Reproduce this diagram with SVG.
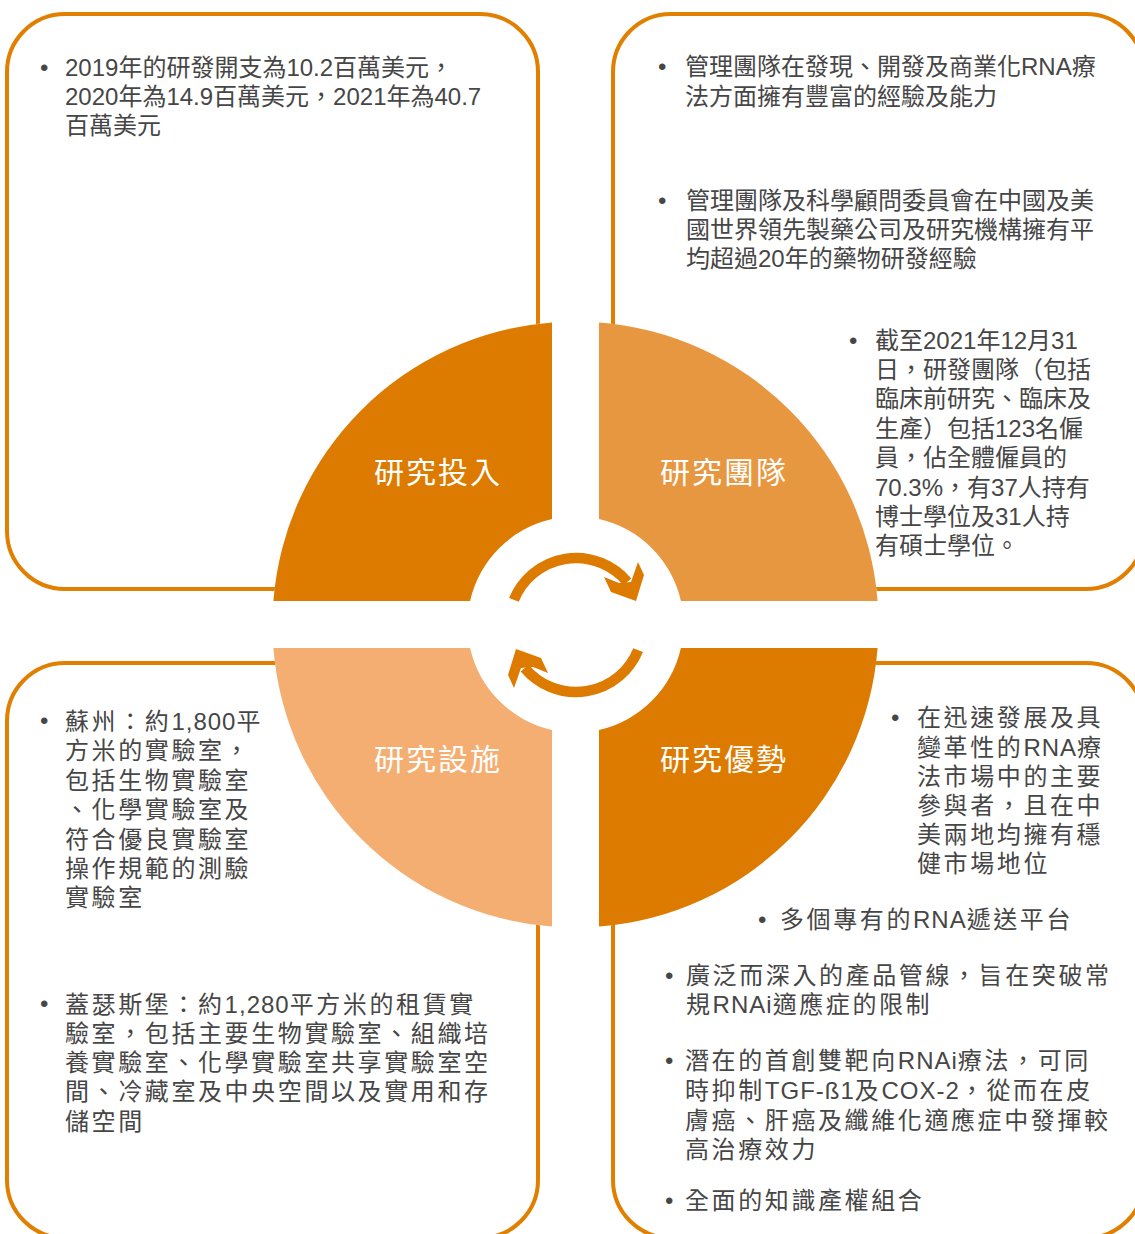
<svg xmlns="http://www.w3.org/2000/svg" width="1135" height="1234" viewBox="0 0 1135 1234">
  <style>
    .box { fill: #ffffff; stroke: #E07F00; stroke-width: 4; }
    .body { font-family: "Liberation Sans", "Noto Sans CJK TC", sans-serif; font-size: 24px; fill: #464646; }
    .spaced { letter-spacing: 2.6px; }
    .lat { letter-spacing: 1px; }
    .label { font-family: "Liberation Sans", "Noto Sans CJK TC", sans-serif; font-size: 30px; fill: #ffffff; letter-spacing: 2px; text-anchor: middle; }
    .dark { fill: #DC7B00; }
    .mid { fill: #E89741; }
    .light { fill: #F4AE72; }
    .cycle { fill: #DC7B00; }
  </style>

  <!-- four rounded panels, partly running off the page edges -->
  <g id="panel-input">
    <rect class="box" x="7" y="14" width="531" height="575" rx="58"/>
    <text class="body">
      <tspan x="40" y="76">•</tspan>
      <tspan x="65" y="76">2019年的研發開支為10.2百萬美元，</tspan>
      <tspan x="65" y="105">2020年為14.9百萬美元，2021年為40.7</tspan>
      <tspan x="65" y="134">百萬美元</tspan>
    </text>
  </g>

  <g id="panel-team">
    <rect class="box" x="613" y="14" width="531" height="575" rx="58"/>
    <text class="body">
      <tspan x="658" y="75">•</tspan>
      <tspan x="685" y="75">管理團隊在發現、開發及商業化RNA療</tspan>
      <tspan x="685" y="105">法方面擁有豐富的經驗及能力</tspan>
      <tspan x="658" y="209">•</tspan>
      <tspan x="686" y="209">管理團隊及科學顧問委員會在中國及美</tspan>
      <tspan x="686" y="238">國世界領先製藥公司及研究機構擁有平</tspan>
      <tspan x="686" y="267">均超過20年的藥物研發經驗</tspan>
      <tspan x="849" y="349">•</tspan>
      <tspan x="875" y="349">截至2021年12月31</tspan>
      <tspan x="875" y="378">日，研發團隊（包括</tspan>
      <tspan x="875" y="407">臨床前研究、臨床及</tspan>
      <tspan x="875" y="437">生產）包括123名僱</tspan>
      <tspan x="875" y="466">員，佔全體僱員的</tspan>
      <tspan x="875" y="496">70.3%，有37人持有</tspan>
      <tspan x="875" y="525">博士學位及31人持</tspan>
      <tspan x="875" y="554">有碩士學位。</tspan>
    </text>
  </g>

  <g id="panel-facilities">
    <rect class="box" x="7" y="663" width="531" height="575" rx="58"/>
    <text class="body">
      <tspan x="40" y="729">•</tspan>
      <tspan x="40" y="1012">•</tspan>
    </text>
    <text class="body spaced">
      <tspan x="65" y="730">蘇州：約<tspan class="lat">1,800</tspan>平</tspan>
      <tspan x="65" y="759">方米的實驗室，</tspan>
      <tspan x="65" y="789">包括生物實驗室</tspan>
      <tspan x="65" y="818">、化學實驗室及</tspan>
      <tspan x="65" y="848">符合優良實驗室</tspan>
      <tspan x="65" y="877">操作規範的測驗</tspan>
      <tspan x="65" y="906">實驗室</tspan>
      <tspan x="65" y="1013">蓋瑟斯堡：約<tspan class="lat">1,280</tspan>平方米的租賃實</tspan>
      <tspan x="65" y="1042">驗室，包括主要生物實驗室、組織培</tspan>
      <tspan x="65" y="1071">養實驗室、化學實驗室共享實驗室空</tspan>
      <tspan x="65" y="1100">間、冷藏室及中央空間以及實用和存</tspan>
      <tspan x="65" y="1130">儲空間</tspan>
    </text>
  </g>

  <g id="panel-strengths">
    <rect class="box" x="613" y="663" width="531" height="575" rx="58"/>
    <text class="body">
      <tspan x="891" y="726">•</tspan>
      <tspan x="758" y="928">•</tspan>
      <tspan x="665" y="984">•</tspan>
      <tspan x="665" y="1069">•</tspan>
      <tspan x="665" y="1209">•</tspan>
    </text>
    <text class="body spaced">
      <tspan x="917" y="726">在迅速發展及具</tspan>
      <tspan x="917" y="756">變革性的<tspan class="lat">RNA</tspan>療</tspan>
      <tspan x="917" y="785">法市場中的主要</tspan>
      <tspan x="917" y="814">參與者，且在中</tspan>
      <tspan x="917" y="843">美兩地均擁有穩</tspan>
      <tspan x="917" y="872">健市場地位</tspan>
      <tspan x="780" y="928">多個專有的<tspan class="lat">RNA</tspan>遞送平台</tspan>
      <tspan x="686" y="984">廣泛而深入的產品管線，旨在突破常</tspan>
      <tspan x="686" y="1013">規<tspan class="lat">RNAi</tspan>適應症的限制</tspan>
      <tspan x="685" y="1069">潛在的首創雙靶向<tspan class="lat">RNAi</tspan>療法，可同</tspan>
      <tspan x="685" y="1099">時抑制<tspan class="lat">TGF-ß1</tspan>及<tspan class="lat">COX-2</tspan>，從而在皮</tspan>
      <tspan x="685" y="1129">膚癌、肝癌及纖維化適應症中發揮較</tspan>
      <tspan x="685" y="1158">高治療效力</tspan>
      <tspan x="685" y="1209">全面的知識產權組合</tspan>
    </text>
  </g>

  <!-- white hub clears the panel corners behind the ring -->
  <circle cx="575.5" cy="624.5" r="303" fill="#ffffff"/>

  <!-- central ring split into four quadrants -->
  <g id="quadrant-input">
    <path class="dark" d="M 273.4 601 A 303 303 0 0 1 552 322.4 L 552 519.1 A 108 108 0 0 0 470.1 601 Z"/>
    <text class="label" x="438" y="483">研究投入</text>
  </g>
  <g id="quadrant-team">
    <path class="mid" d="M 599 322.4 A 303 303 0 0 1 877.6 601 L 680.9 601 A 108 108 0 0 0 599 519.1 Z"/>
    <text class="label" x="724" y="483">研究團隊</text>
  </g>
  <g id="quadrant-facilities">
    <path class="light" d="M 273.4 648 L 470.1 648 A 108 108 0 0 0 552 729.9 L 552 926.6 A 303 303 0 0 1 273.4 648 Z"/>
    <text class="label" x="438" y="770">研究設施</text>
  </g>
  <g id="quadrant-strengths">
    <path class="dark" d="M 599 729.9 A 108 108 0 0 0 680.9 648 L 877.6 648 A 303 303 0 0 1 599 926.6 Z"/>
    <text class="label" x="724" y="770">研究優勢</text>
  </g>

  <!-- cycle arrows in the hub -->
  <defs>
    <g id="cycle-arrow">
      <path d="M 513.9 599.9 A 67 67 0 0 1 627.3 581.9" fill="none" stroke="#DC7B00" stroke-width="10.5"/>
      <polygon class="cycle" points="604,577 611,592 636,601 644,575 638,562 631,582 619,583"/>
    </g>
  </defs>
  <g id="connectors">
    <use href="#cycle-arrow"/>
    <use href="#cycle-arrow" transform="rotate(180 576 625)"/>
  </g>
</svg>
